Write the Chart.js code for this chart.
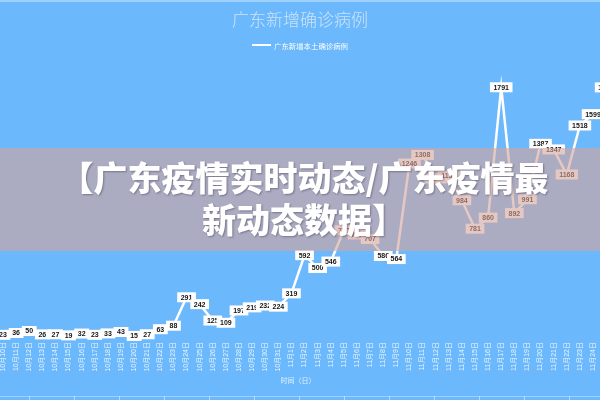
<!DOCTYPE html>
<html>
<head>
<meta charset="utf-8">
<script src="https://cdn.jsdelivr.net/npm/chart.js@4/dist/chart.umd.min.js"></script>
<style>
html,body{margin:0;padding:0;background:#6cb8fc;}
#wrap{position:relative;width:600px;height:400px;overflow:hidden;background:#6cb8fc;}
#c{position:absolute;left:0;top:0;}
#topline{position:absolute;left:0;top:0;width:600px;height:2px;background:rgba(255,255,255,0.35);}
#botline{position:absolute;left:0;top:396px;width:600px;height:4px;
  border-top:1px solid rgba(255,255,255,0.35);
  background:repeating-linear-gradient(90deg,transparent 0,transparent 29px,rgba(255,255,255,0.45) 29px,rgba(255,255,255,0.45) 30px,transparent 30px,transparent 45px);}
#title{position:absolute;left:0;width:600px;top:6px;text-align:center;
  font:300 17px "Noto Sans CJK SC",sans-serif;color:rgba(232,240,250,0.78);}
#legend{position:absolute;left:0;width:600px;top:40px;height:10px;display:flex;align-items:center;justify-content:center;
  font:7.4px "Noto Sans CJK SC",sans-serif;color:#fff;}
#legend i{display:inline-block;width:19px;height:2.5px;background:#fff;margin-right:3px;}
#band{position:absolute;left:0;top:148px;width:600px;height:103px;
  background:rgba(213,163,155,0.6);display:flex;align-items:center;justify-content:center;}
#band div{font:900 34px "Noto Sans CJK SC",sans-serif;color:#fff;line-height:42px;text-align:center;
  text-shadow:1px 1px 2px rgba(60,50,70,0.45);margin-top:-3px;margin-left:8px;}
</style>
</head>
<body>
<div id="wrap">
  <canvas id="c" width="600" height="400"></canvas>
  <div id="topline"></div>
  <div id="botline"></div>
  <div id="title"></div>
  <div id="legend"><i></i><span id="legtext"></span></div>
  <div id="band"><div id="bandtext"></div></div>
</div>
<script>
// ---- data ----
const chartTitle = '广东新增确诊病例';
const seriesName = '广东新增本土确诊病例';
const axisTitle = '时间（日）';
const bannerLine1 = '【广东疫情实时动态/广东疫情最';
const bannerLine2 = '新动态数据】';

const dates = [
  '10月10日','10月11日','10月12日','10月13日','10月14日','10月15日','10月16日','10月17日',
  '10月18日','10月19日','10月20日','10月21日','10月22日','10月23日','10月24日','10月25日',
  '10月26日','10月27日','10月28日','10月29日','10月30日','10月31日','11月1日','11月2日',
  '11月3日','11月4日','11月5日','11月6日','11月7日','11月8日','11月9日','11月10日',
  '11月11日','11月12日','11月13日','11月14日','11月15日','11月16日','11月17日','11月18日',
  '11月19日','11月20日','11月21日','11月22日','11月23日','11月24日','11月25日'
];
const newCases = [
  23, 36, 50, 26, 27, 19, 32, 23,
  33, 43, 15, 27, 63, 88, 291, 242,
  125, 109, 197, 219, 232, 224, 319, 592,
  500, 546, 770, 740, 707, 586, 564, 1246,
  1308, 1140, 1157, 984, 781, 860, 1791, 892,
  991, 1387, 1347, 1168, 1518, 1599, 1790
];
const lastVisibleIndex = 45;

// ---- text ----
document.getElementById('title').textContent = chartTitle;
document.getElementById('legtext').textContent = seriesName;
document.getElementById('bandtext').innerHTML = bannerLine1 + '<br>' + bannerLine2;

// ---- value labels plugin ----
const valueLabels = {
  id: 'valueLabels',
  afterDatasetsDraw(chart) {
    const ctx = chart.ctx;
    const meta = chart.getDatasetMeta(0);
    const data = chart.data.datasets[0].data;
    ctx.save();
    ctx.font = 'bold 7px "Liberation Sans", sans-serif';
    ctx.textAlign = 'center';
    ctx.textBaseline = 'middle';
    meta.data.forEach((pt, i) => {
      if (!pt || !isFinite(pt.x) || !isFinite(pt.y)) return;
      const t = String(data[i]);
      const w = ctx.measureText(t).width + 7;
      const h = 10;
      ctx.fillStyle = '#ffffff';
      ctx.fillRect(pt.x - w / 2, pt.y - h / 2, w, h);
      ctx.fillStyle = '#151515';
      ctx.fillText(t, pt.x, pt.y + 0.5);
    });
    ctx.restore();
  }
};

new Chart(document.getElementById('c'), {
  type: 'line',
  data: {
    labels: dates,
    datasets: [{
      label: seriesName,
      data: newCases,
      borderColor: '#ffffff',
      borderWidth: 2.5,
      pointRadius: 0,
      tension: 0,
      fill: false,
      clip: false
    }]
  },
  options: {
    responsive: false,
    animation: false,
    devicePixelRatio: 1,
    layout: { padding: { left: 3, right: 7, top: 58, bottom: 15 } },
    plugins: {
      legend: { display: false },
      title: { display: false },
      tooltip: { enabled: false }
    },
    scales: {
      x: {
        type: 'category',
        max: dates[lastVisibleIndex],
        afterFit(scale) { scale.paddingLeft = 0; scale.paddingRight = 0; },
        grid: { display: false, drawTicks: false },
        border: { display: false },
        ticks: {
          color: 'rgba(255,255,255,0.85)',
          font: { size: 7, family: '"Liberation Sans","Noto Sans CJK SC",sans-serif' },
          minRotation: 90, maxRotation: 90, autoSkip: false, padding: 4
        },
        title: {
          display: true, text: axisTitle,
          color: 'rgba(255,255,255,0.8)',
          font: { size: 7, family: '"Noto Sans CJK SC",sans-serif' },
          padding: { top: 1, bottom: 0 }
        }
      },
      y: { display: false, min: 0, max: 2000 }
    }
  },
  plugins: [valueLabels]
});
</script>
</body>
</html>
